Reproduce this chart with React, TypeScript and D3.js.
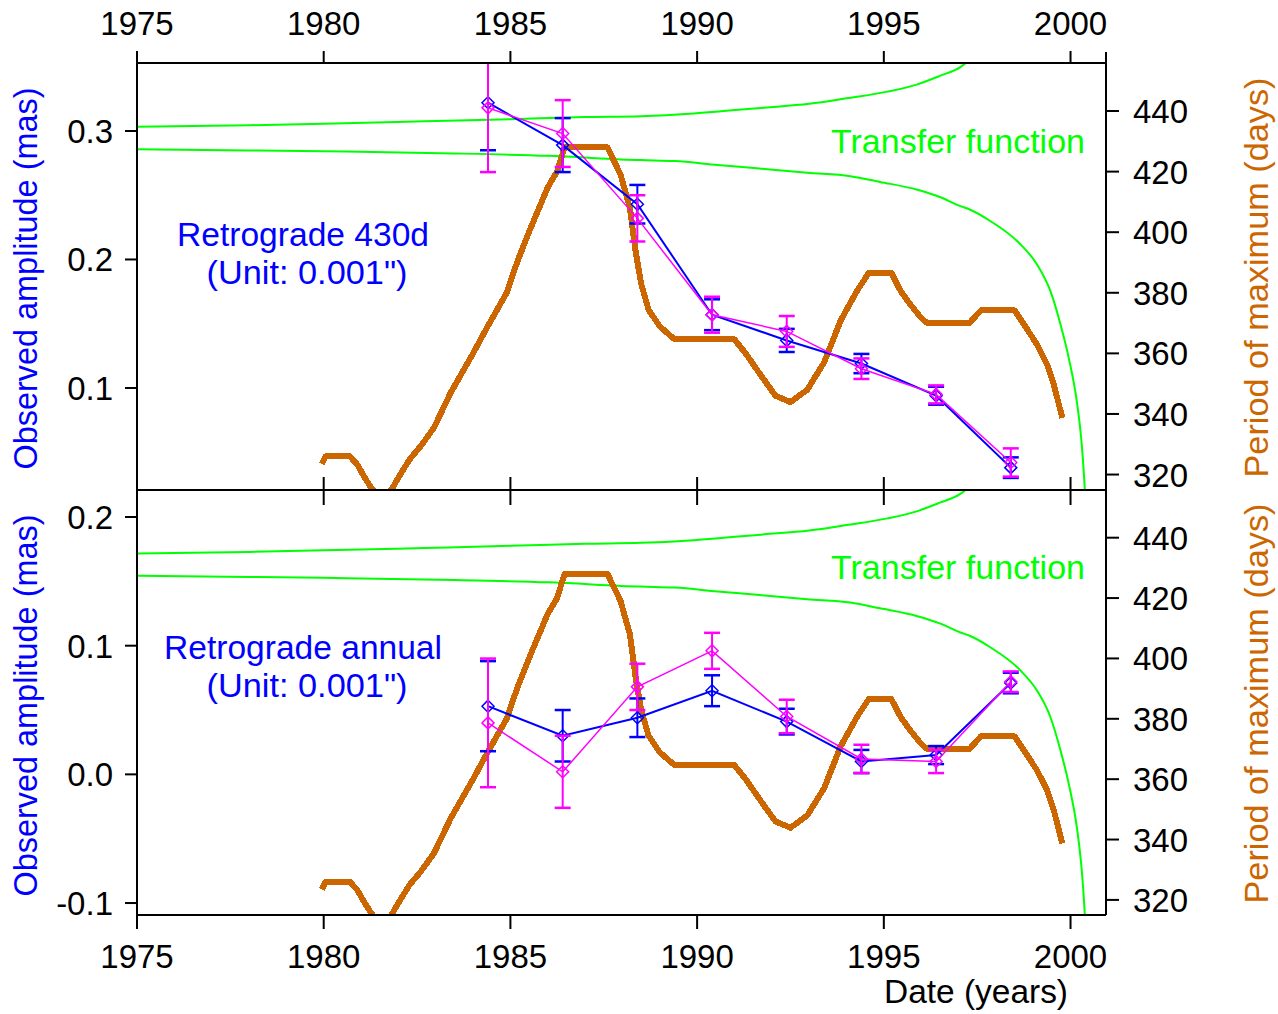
import React from 'react';
import * as d3 from 'd3';

// ---------- data ----------
const obsYears = [1984.4, 1986.4, 1988.4, 1990.4, 1992.4, 1994.4, 1996.4, 1998.4];

const ret430Blue = [0.322, 0.289, 0.243, 0.157, 0.137, 0.119, 0.094, 0.038];
const ret430BlueErr = [0.037, 0.021, 0.015, 0.012, 0.009, 0.0075, 0.007, 0.008];
const ret430Magenta = [0.318, 0.298, 0.232, 0.157, 0.144, 0.115, 0.095, 0.042];
const ret430MagentaErr = [0.05, 0.026, 0.018, 0.014, 0.012, 0.008, 0.007, 0.011];

const annualBlue = [0.053, 0.030, 0.044, 0.065, 0.041, 0.010, 0.015, 0.071];
const annualBlueErr = [0.035, 0.020, 0.015, 0.012, 0.010, 0.009, 0.007, 0.008];
const annualMagenta = [0.040, 0.002, 0.068, 0.096, 0.045, 0.012, 0.010, 0.072];
const annualMagentaErr = [0.050, 0.028, 0.018, 0.014, 0.013, 0.011, 0.009, 0.008];

const periodYears = [
  1979.95, 1980.05, 1980.7, 1980.9, 1981.05, 1981.25, 1981.5, 1981.7, 1981.86, 1982.05,
  1982.3, 1982.6, 1982.95, 1983.4, 1984.0, 1984.35, 1984.9, 1985.2, 1985.55, 1986.0,
  1986.25, 1986.45, 1987.6, 1987.95, 1988.2, 1988.35, 1988.5, 1988.7, 1989.0, 1989.4,
  1991.0, 1991.3, 1991.75, 1992.1, 1992.5, 1992.95, 1993.4, 1993.85, 1994.3, 1994.6,
  1995.2, 1995.45, 1995.7, 1996.0, 1996.15, 1997.3, 1997.6, 1998.5, 1998.75, 1999.1,
  1999.37, 1999.55, 1999.78,
];
const periodDays = [
  323.5, 326, 326, 323.3, 320, 316, 312, 313, 316, 320,
  325, 329.4, 335.4, 347, 360, 368, 380, 390.8, 401.6, 414.8,
  420, 428, 428, 419, 408, 394, 383, 374.4, 368.9, 364.6,
  364.6, 360, 352, 346, 343.9, 348, 357, 371, 381, 386.6,
  386.6, 380.6, 376.3, 371.7, 370.1, 370.1, 374.2, 374.2, 369.6, 363,
  356.4, 349.8, 338.7,
];

const tfUpperYears = [1975, 1978, 1980, 1982.7, 1985, 1987, 1988.5, 1989.8, 1990.7, 1991.8, 1993.0, 1994.0, 1995.1, 1995.9, 1996.5, 1997.05, 1997.4];
const tfUpperDays = [434.8, 435.3, 435.8, 436.6, 437.3, 438.0, 438.3, 439.1, 440.0, 441.1, 442.4, 444.2, 446.4, 448.8, 451.6, 454.5, 458];
const tfLowerYears = [1975, 1978, 1980, 1983.5, 1986, 1988.5, 1989.4, 1990.55, 1991.6, 1992.95, 1994.1, 1994.9, 1995.9, 1996.5, 1997.05, 1997.3, 1997.85, 1998.66, 1999.1, 1999.46, 1999.73, 1999.95, 2000.18, 2000.3, 2000.38, 2000.42];
const tfLowerDays = [427.4, 427.0, 426.7, 426.0, 425.2, 423.8, 423.5, 422.2, 421.1, 419.6, 418.5, 416.6, 414.0, 411.6, 408.6, 407.5, 403.7, 396, 389.4, 380.6, 369.6, 358.6, 343.1, 329.9, 315.6, 305];

const xTickYears = [1975, 1980, 1985, 1990, 1995, 2000];
const ampTicks430 = [0.1, 0.2, 0.3];
const ampTicksAnnual = [-0.1, 0.0, 0.1, 0.2];
const periodTicks = [320, 340, 360, 380, 400, 420, 440];

// ---------- layout ----------
const W = 1278;
const H = 1014;
const LEFT = 137;
const RIGHT = 1106;
const FONT = '"Liberation Sans", Arial, Helvetica, sans-serif';
const BLUE = '#0000ff';
const MAGENTA = '#ff00ff';
const GREEN = '#00ff00';
const ORANGE = '#cc6600';

const x = d3.scaleLinear().domain([1975, 2000.95]).range([LEFT, RIGHT]);

const panels = [
  {
    id: 'p430',
    top: 63,
    bottom: 490,
    ampDomain: [0.0206, 0.3529],
    perDomain: [314.9, 455.85],
    ampTicks: ampTicks430,
    blue: ret430Blue,
    blueErr: ret430BlueErr,
    magenta: ret430Magenta,
    magentaErr: ret430MagentaErr,
    label1: 'Retrograde 430d',
    label1Len: 252,
    label1Y: 246,
    label2Y: 284,
    tfY: 153,
  },
  {
    id: 'pann',
    top: 490,
    bottom: 915,
    ampDomain: [-0.1093, 0.221],
    perDomain: [315.0, 455.8],
    ampTicks: ampTicksAnnual,
    blue: annualBlue,
    blueErr: annualBlueErr,
    magenta: annualMagenta,
    magentaErr: annualMagentaErr,
    label1: 'Retrograde annual',
    label1Len: 278,
    label1Y: 659,
    label2Y: 697,
    tfY: 579,
  },
];

const fmtAmp = (v: number) => d3.format('.1f')(v).replace('\u2212', '-');

function Series({ values, errs, color, yAmp, lineWidth, clipId }: any) {
  const pts = obsYears.map((yr, i) => [x(yr), yAmp(values[i])] as [number, number]);
  const line = d3.line()(pts) || '';
  return (
    <g clipPath={`url(#${clipId})`}>
      <path d={line} fill="none" stroke={color} strokeWidth={lineWidth} />
      {obsYears.map((yr, i) => {
        const cx = x(yr);
        const y1 = yAmp(values[i] + errs[i]);
        const y2 = yAmp(values[i] - errs[i]);
        const cy = yAmp(values[i]);
        const s = 6;
        return (
          <g key={i} stroke={color} fill="none">
            <line x1={cx} x2={cx} y1={y1} y2={y2} strokeWidth={2} />
            <line x1={cx - 8} x2={cx + 8} y1={y1} y2={y1} strokeWidth={2.5} />
            <line x1={cx - 8} x2={cx + 8} y1={y2} y2={y2} strokeWidth={2.5} />
            <path d={`M${cx},${cy - s}L${cx + s},${cy}L${cx},${cy + s}L${cx - s},${cy}Z`} strokeWidth={1.5} />
          </g>
        );
      })}
    </g>
  );
}

function Panel({ p }: any) {
  const yAmp = d3.scaleLinear().domain(p.ampDomain).range([p.bottom, p.top]);
  const yPer = d3.scaleLinear().domain(p.perDomain).range([p.bottom, p.top]);
  const clipId = `clip-${p.id}`;
  const perLine = d3.line<number>().x((d) => x(d)).y((_, i) => yPer(periodDays[i]));
  const upLine = d3.line<number>().x((d) => x(d)).y((_, i) => yPer(tfUpperDays[i])).curve(d3.curveMonotoneX);
  const lowLine = d3.line<number>().x((d) => x(d)).y((_, i) => yPer(tfLowerDays[i])).curve(d3.curveMonotoneX);
  const cy = (p.top + p.bottom) / 2;
  return (
    <g>
      <defs>
        <clipPath id={clipId}>
          <rect x={LEFT} y={p.top} width={RIGHT - LEFT} height={p.bottom - p.top} />
        </clipPath>
      </defs>
      <g clipPath={`url(#${clipId})`}>
        <path d={upLine(tfUpperYears) || ''} fill="none" stroke={GREEN} strokeWidth={2} />
        <path d={lowLine(tfLowerYears) || ''} fill="none" stroke={GREEN} strokeWidth={2} />
        <path
          d={perLine(periodYears) || ''}
          fill="none"
          stroke={ORANGE}
          strokeWidth={6}
          strokeLinejoin="round"
          shapeRendering="crispEdges"
        />
      </g>
      <Series values={p.blue} errs={p.blueErr} color={BLUE} yAmp={yAmp} lineWidth={2} clipId={clipId} />
      <Series values={p.magenta} errs={p.magentaErr} color={MAGENTA} yAmp={yAmp} lineWidth={1.5} clipId={clipId} />

      {/* left ticks */}
      {p.ampTicks.map((t: number) => (
        <g key={`a${t}`}>
          <line x1={LEFT - 12} x2={LEFT} y1={yAmp(t)} y2={yAmp(t)} stroke="#000" strokeWidth={2} />
          <text x={LEFT - 24} y={yAmp(t) + 12} textAnchor="end" fontSize={33} fontFamily={FONT} fill="#000">
            {fmtAmp(t)}
          </text>
        </g>
      ))}
      {/* right ticks */}
      {periodTicks.map((t) => (
        <g key={`p${t}`}>
          <line x1={RIGHT} x2={RIGHT + 13} y1={yPer(t)} y2={yPer(t)} stroke="#000" strokeWidth={2} />
          <text x={RIGHT + 27} y={yPer(t) + 12} textAnchor="start" fontSize={33} fontFamily={FONT} fill="#000">
            {t}
          </text>
        </g>
      ))}

      {/* axis titles */}
      <text
        transform={`translate(37,${cy + (p.id === 'p430' ? 2 : 3)}) rotate(-90)`}
        textAnchor="middle"
        fontSize={33}
        fontFamily={FONT}
        fill={BLUE}
        textLength={382}
        lengthAdjust="spacingAndGlyphs"
      >
        Observed amplitude (mas)
      </text>
      <text
        transform={`translate(1268,${cy + 1}) rotate(-90)`}
        textAnchor="middle"
        fontSize={33}
        fontFamily={FONT}
        fill={ORANGE}
        textLength={400}
        lengthAdjust="spacingAndGlyphs"
      >
        Period of maximum (days)
      </text>

      {/* annotations */}
      <text x={303} y={p.label1Y} textAnchor="middle" fontSize={33} fontFamily={FONT} fill={BLUE} textLength={p.label1Len} lengthAdjust="spacingAndGlyphs">
        {p.label1}
      </text>
      <text x={307} y={p.label2Y} textAnchor="middle" fontSize={33} fontFamily={FONT} fill={BLUE} textLength={201} lengthAdjust="spacingAndGlyphs">
        (Unit: 0.001")
      </text>
      <text x={831} y={p.tfY} textAnchor="start" fontSize={33} fontFamily={FONT} fill={GREEN} textLength={254} lengthAdjust="spacingAndGlyphs">
        Transfer function
      </text>
    </g>
  );
}

export default function App() {
  const top = panels[0].top;
  const mid = panels[0].bottom;
  const bottom = panels[1].bottom;
  return (
    <svg
      width={W}
      height={H}
      viewBox={`0 0 ${W} ${H}`}
      style={{ position: 'absolute', left: 0, top: 0, background: '#fff' }}
    >
      <rect x={0} y={0} width={W} height={H} fill="#fff" />
      {panels.map((p) => (
        <Panel key={p.id} p={p} />
      ))}

      {/* frame */}
      <g stroke="#000" strokeWidth={2} fill="none">
        <line x1={LEFT} x2={RIGHT} y1={top} y2={top} />
        <line x1={LEFT} x2={RIGHT} y1={mid} y2={mid} />
        <line x1={LEFT} x2={RIGHT} y1={bottom} y2={bottom} />
        <line x1={LEFT} x2={LEFT} y1={top} y2={bottom} />
        <line x1={RIGHT} x2={RIGHT} y1={top - 11} y2={bottom} />
        {xTickYears.map((yr) => (
          <g key={yr}>
            <line x1={x(yr)} x2={x(yr)} y1={top - 12} y2={top} />
            <line x1={x(yr)} x2={x(yr)} y1={mid - 13} y2={mid + 15} />
            <line x1={x(yr)} x2={x(yr)} y1={bottom} y2={bottom + 14} />
          </g>
        ))}
      </g>
      {xTickYears.map((yr) => (
        <g key={`l${yr}`}>
          <text x={x(yr)} y={35} textAnchor="middle" fontSize={33} fontFamily={FONT} fill="#000">
            {yr}
          </text>
          <text x={x(yr)} y={968} textAnchor="middle" fontSize={33} fontFamily={FONT} fill="#000">
            {yr}
          </text>
        </g>
      ))}
      <text x={1068} y={1003} textAnchor="end" fontSize={33} fontFamily={FONT} fill="#000" textLength={184} lengthAdjust="spacingAndGlyphs">
        Date (years)
      </text>
    </svg>
  );
}
